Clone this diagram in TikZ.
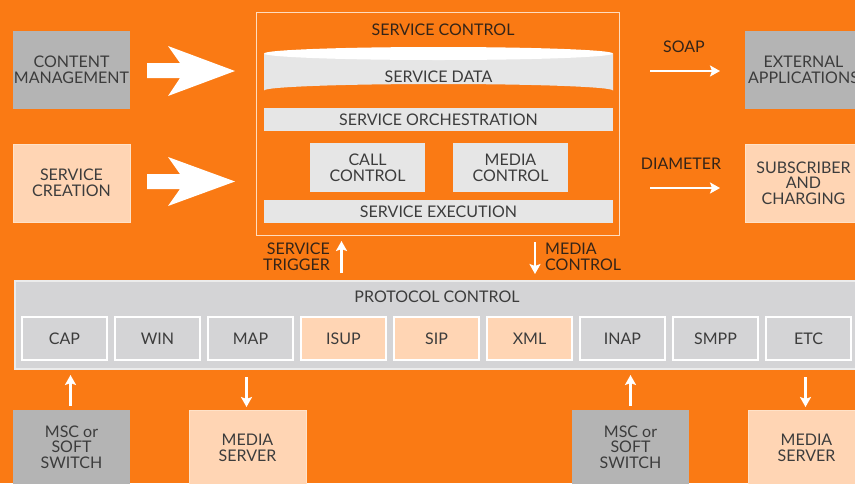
\documentclass[tikz,border=0pt]{standalone}
\usepackage{fontspec}
\setmainfont{Lato}
\usetikzlibrary{arrows.meta}
\definecolor{bgorange}{RGB}{250,122,20}
\definecolor{boxgray}{RGB}{180,180,180}
\definecolor{peach}{RGB}{255,213,180}
\definecolor{peachedge}{RGB}{255,226,200}
\definecolor{lightgray}{RGB}{230,230,230}
\definecolor{protogray}{RGB}{212,212,214}
\definecolor{protoedge}{RGB}{236,236,236}
\definecolor{txt}{RGB}{60,60,60}
\definecolor{labeltxt}{RGB}{52,36,24}
\definecolor{frameline}{RGB}{255,220,190}
\tikzset{
  lbl/.style={font=\fontsize{16}{15.7}\selectfont, align=center, inner sep=0pt},
  outerbox/.style={lbl, text=txt, minimum width=117pt, minimum height=78pt},
  graybox/.style={outerbox, fill=boxgray},
  peachbox/.style={outerbox, fill=peach, draw=peachedge, line width=1pt},
  bar/.style={lbl, text=txt, fill=lightgray, minimum width=349pt, minimum height=23pt},
  ctrlbox/.style={lbl, text=txt, fill=lightgray, minimum width=115pt, minimum height=49pt},
  proto/.style={lbl, text=txt, draw=white, line width=2.5pt, minimum width=85pt, minimum height=43pt},
  onorange/.style={lbl, text=labeltxt},
  flow/.style={draw=white, line width=2.6pt, -{Stealth[length=10pt,width=11pt,inset=2pt]}},
  bigarrow/.style={fill=white}
}
\begin{document}
\begin{tikzpicture}[x=1pt,y=-1pt]
\fill[bgorange] (0,0) rectangle (855,483);
\useasboundingbox (0,0) rectangle (855,483);

% service control frame
\draw[frameline, line width=1pt] (256.5,12.5) rectangle (619.5,235.5);
\node[onorange] (sctitle) at (443,30) {SERVICE CONTROL};

% service data store
\fill[lightgray] (264,53.5) -- (264,90.5) arc[start angle=180, end angle=360, x radius=174.5, y radius=6.5] -- (613,53.5) -- cycle;
\fill[white] (438.5,53.5) ellipse[x radius=174.5, y radius=6.5];
\node[lbl, text=txt] (sdata) at (438.5,76.5) {SERVICE DATA};

\node[bar] (orch) at (438.5,119.5) {SERVICE ORCHESTRATION};
\node[ctrlbox] (call) at (367.5,167.5) {CALL\\CONTROL};
\node[ctrlbox] (media) at (510.5,167.5) {MEDIA\\CONTROL};
\node[bar] (exec) at (438.5,211.5) {SERVICE EXECUTION};

% left side inputs
\node[graybox] (content) at (71.5,70) {CONTENT\\MANAGEMENT};
\node[peachbox] (creation) at (71.5,183) {SERVICE\\CREATION};
\fill[bigarrow] (147,63) -- (180,63) -- (168,46) -- (235,71) -- (168,96) -- (180,78) -- (147,78) -- cycle;
\fill[bigarrow] (147,174) -- (180,174) -- (168,157) -- (235,181.5) -- (168,206) -- (180,189) -- (147,189) -- cycle;

% right side outputs
\node[graybox] (extapp) at (803.5,70) {EXTERNAL\\APPLICATIONS};
\node[peachbox] (subscr) at (803.5,183) {SUBSCRIBER\\AND\\CHARGING};
\node[onorange] (soap) at (684,47) {SOAP};
\node[onorange] (diam) at (681,164) {DIAMETER};
\coordinate (soapA) at (650,71);
\coordinate (soapB) at (720,71);
\coordinate (diamA) at (650,188);
\coordinate (diamB) at (720,188);
\draw[flow] (soapA) -- (soapB);
\draw[flow] (diamA) -- (diamB);

% triggers between service control and protocol control
\node[onorange, align=right, anchor=east] (trig) at (330,257) {SERVICE\\TRIGGER};
\node[onorange, align=left, anchor=west] (mctl) at (545,257) {MEDIA\\CONTROL};
\coordinate (trigA) at (341.5,273);
\coordinate (trigB) at (341.5,241);
\coordinate (mctlA) at (535,242);
\coordinate (mctlB) at (535,274);
\draw[flow] (trigA) -- (trigB);
\draw[flow] (mctlA) -- (mctlB);

% protocol control
\node[lbl, fill=protogray, draw=protoedge, line width=2pt, minimum width=860pt, minimum height=88pt, anchor=north west] (pc) at (14,280) {};
\node[lbl, text=txt] (pctitle) at (437,297) {PROTOCOL CONTROL};
\node[proto, fill=protogray] (cap)  at (64.5,338.5) {CAP};
\node[proto, fill=protogray] (win)  at (157.5,338.5) {WIN};
\node[proto, fill=protogray] (map)  at (250.5,338.5) {MAP};
\node[proto, fill=peach]     (isup) at (343.5,338.5) {ISUP};
\node[proto, fill=peach]     (sip)  at (436.5,338.5) {SIP};
\node[proto, fill=peach]     (xml)  at (529.5,338.5) {XML};
\node[proto, fill=protogray] (inap) at (622.5,338.5) {INAP};
\node[proto, fill=protogray] (smpp) at (715.5,338.5) {SMPP};
\node[proto, fill=protogray] (etc)  at (808.5,338.5) {ETC};

% network elements
\node[graybox, minimum height=74pt, anchor=north] (msc1) at (71.5,410) {MSC or\\SOFT\\SWITCH};
\node[peachbox, minimum height=74pt, anchor=north] (ms1) at (247.5,410) {MEDIA\\SERVER};
\node[graybox, minimum height=74pt, anchor=north] (msc2) at (630.5,410) {MSC or\\SOFT\\SWITCH};
\node[peachbox, minimum height=74pt, anchor=north] (ms2) at (806.5,410) {MEDIA\\SERVER};

\draw[flow] (msc1.north) ++(-1,-4) -- ++(0,-31);
\draw[flow] (ms1.north) ++(-1,-33) -- ++(0,30);
\draw[flow] (msc2.north) ++(0,-4) -- ++(0,-31);
\draw[flow] (ms2.north) ++(-1,-33) -- ++(0,30);
\end{tikzpicture}
\end{document}
